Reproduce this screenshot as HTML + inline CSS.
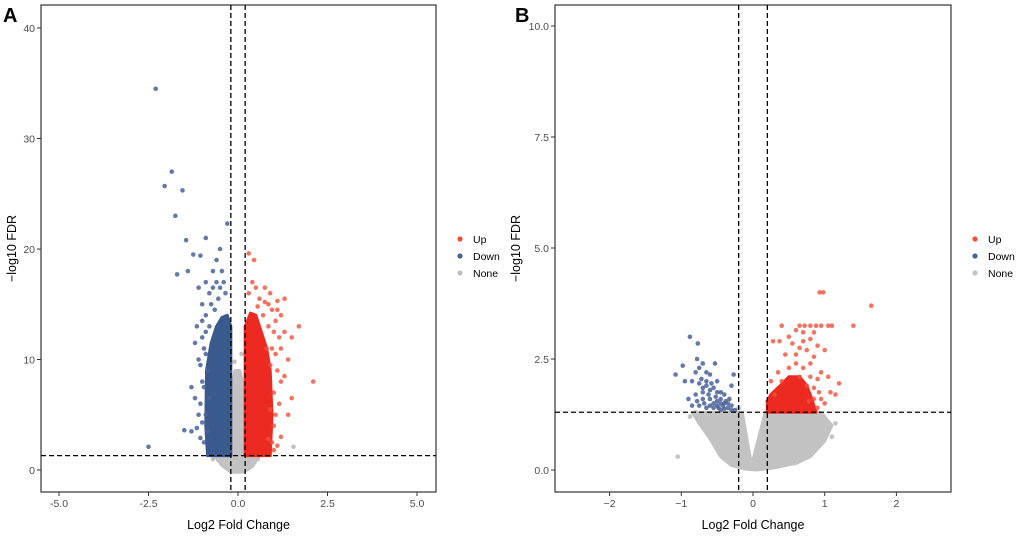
<!DOCTYPE html>
<html><head><meta charset="utf-8"><style>
body{margin:0;background:#fff;}
svg{display:block;font-family:"Liberation Sans",Arial,sans-serif;}
</style></head><body>
<svg id="chart" width="1020" height="536" viewBox="0 0 1020 536"></svg>
<script>
// ---------- Panel A data ----------
const aXTicks = [-5.0, -2.5, 0.0, 2.5, 5.0];
const aXTickLabels = ["-5.0", "-2.5", "0.0", "2.5", "5.0"];
const aYTicks = [0, 10, 20, 30, 40];
const aYTickLabels = ["0", "10", "20", "30", "40"];
const aDownPoints = [[-2.3,34.5],[-2.05,25.7],[-1.85,27],[-1.75,23],[-1.55,25.3],[-1.4,18],[-1.7,17.7],[-1.45,20.8],[-1.25,19.5],[-1.05,19.4],[-0.3,22.3],[-0.9,21],[-0.5,20],[-2.5,2.1],[-1.5,3.6],[-1.3,3.5],[-1.1,5],[-1.2,6.5],[-1.0,8],[-1.1,10],[-1.0,12],[-0.9,14],[-0.8,16],[-0.7,18],[-0.6,17],[-1.3,7.5],[-0.9,5],[-1.0,4.3],[-0.85,3.5],[-0.95,11],[-1.15,13],[-0.75,15],[-0.6,19],[-0.45,18],[-0.35,16],[-0.85,9],[-0.8,6.5],[-0.9,12.5],[-1.05,9.5],[-0.8,13],[-0.7,16.5],[-0.4,17],[-1.0,15],[-1.1,16.5],[-0.55,15.5],[-0.9,17],[-1.2,11.5],[-1.05,6],[-0.95,2.5],[-1.15,3.8],[-0.65,14.5],[-0.5,16.5],[-0.95,7.5],[-1.0,13.5],[-0.9,10.5],[-1.05,2.9]];
const aUpPoints = [[0.3,19.6],[0.4,17],[0.5,16.5],[0.9,16],[1.1,15.3],[1.3,15.5],[1.2,14],[1.5,12],[1.4,10],[1.3,8.5],[2.1,8],[1.5,6.5],[1.4,5],[1.0,4],[1.2,3],[0.9,5.5],[1.0,7],[1.1,9],[0.8,11],[1.0,12.5],[0.7,14],[0.6,15.5],[1.7,13],[0.95,2.5],[0.85,2.8],[0.45,19],[1.2,11],[0.9,9.5],[1.15,6],[0.85,13],[0.95,14.5],[1.3,12.5],[0.75,16.5],[1.05,10.5],[1.0,1.8],[1.1,2.2],[0.95,11],[1.05,13.5],[1.15,12],[0.85,15],[1.1,14.5],[0.55,14.8],[0.75,15.2],[1.2,8],[1.05,5],[0.3,16]];
const aNonePoints = [[1.55,2.1],[-0.55,0.9],[0.55,1.0],[-0.7,1.0],[0.1,10.5],[-0.1,9.8]];
const aDownCore = [[-0.2,1.3],[-0.2,13],[-0.3,14],[-0.45,13.8],[-0.6,13],[-0.75,11.5],[-0.88,9],[-0.9,4],[-0.85,1.3]];
const aUpCore = [[0.2,1.3],[0.2,13],[0.35,14.2],[0.5,14],[0.65,12.5],[0.8,11],[0.9,9],[0.95,5],[0.9,1.3]];
const aNoneCore = [[-0.65,1.3],[-0.2,1.3],[-0.2,7],[-0.08,9],[0.05,9],[0.2,7],[0.2,1.3],[0.6,1.3],[0.4,0.3],[0.15,-0.2],[-0.2,-0.2],[-0.45,0.4]];
// ---------- Panel B data ----------
const bXTicks = [-2, -1, 0, 1, 2];
const bXTickLabels = ["\u22122", "\u22121", "0", "1", "2"];
const bYTicks = [0, 2.5, 5, 7.5, 10];
const bYTickLabels = ["0.0", "2.5", "5.0", "7.5", "10.0"];
const bDownPoints = [[-0.88,3.0],[-0.77,2.85],[-0.98,2.35],[-1.08,2.15],[-0.95,2.0],[-0.78,2.5],[-0.7,2.4],[-0.53,2.4],[-0.65,2.2],[-0.6,2.15],[-0.27,2.15],[-0.45,1.75],[-0.3,1.9],[-0.85,2.0],[-0.75,1.95],[-0.65,1.9],[-0.55,1.85],[-0.5,2.0],[-0.9,1.6],[-0.8,1.7],[-0.7,1.75],[-0.6,1.6],[-0.5,1.55],[-0.4,1.5],[-0.3,1.45],[-0.75,1.45],[-0.65,1.4],[-0.55,1.4],[-0.45,1.35],[-0.35,1.4],[-0.25,1.35],[-0.85,1.45],[-0.6,1.8],[-0.4,1.7],[-0.7,1.6],[-0.5,1.45],[-0.65,2.0],[-0.45,1.6],[-0.72,2.05],[-0.58,1.95],[-0.38,1.55],[-0.48,1.4],[-0.68,1.5],[-0.62,1.7],[-0.52,1.65],[-0.42,1.45],[-0.33,1.6],[-0.55,1.5],[-0.78,1.55],[-0.7,1.85],[-0.6,1.45],[-0.5,1.75],[-0.4,1.38],[-0.3,1.35],[-0.45,1.5],[-0.35,1.5],[-0.8,2.2],[-0.75,2.3]];
const bUpPoints = [[1.65,3.7],[0.93,4.0],[0.98,4.0],[1.4,3.25],[0.4,3.25],[0.65,3.25],[0.72,3.25],[0.8,3.25],[0.88,3.25],[0.95,3.25],[1.05,3.25],[1.1,3.25],[0.6,3.15],[0.5,3.0],[0.28,2.9],[0.37,2.9],[1.0,2.7],[1.05,2.1],[1.2,1.95],[1.08,1.75],[1.15,1.7],[0.9,2.05],[0.95,2.2],[0.85,2.55],[0.7,2.9],[0.8,2.95],[0.75,2.7],[0.65,2.75],[0.9,2.8],[0.45,2.6],[0.35,2.2],[0.25,2.0],[0.95,1.6],[1.0,1.5],[0.9,1.4],[0.8,2.4],[0.6,2.6],[0.55,2.85],[0.85,3.1],[0.7,3.1],[0.8,2.1],[0.85,1.85],[0.75,1.9],[0.7,2.3],[0.6,2.4],[0.5,2.3],[0.4,2.0],[0.3,1.7],[0.85,1.6],[0.78,1.55],[0.65,2.1],[0.92,1.75]];
const bNonePoints = [[-1.05,0.3],[1.1,0.75],[1.15,1.05],[0.85,0.9],[0.9,0.6],[-0.8,1.3],[1.0,1.1],[-0.75,1.15],[0.2,1.55],[-0.2,1.4],[-0.88,1.2]];
const bUpCore = [[0.2,1.3],[0.88,1.3],[0.82,1.6],[0.75,1.9],[0.65,2.1],[0.5,2.1],[0.38,1.9],[0.25,1.7],[0.2,1.55]];
const bNoneCore = [[-0.85,1.3],[-0.15,1.3],[-0.02,0.1],[0.17,1.3],[0.95,1.3],[1.1,1.0],[1.0,0.65],[0.8,0.3],[0.6,0.15],[0.3,0.05],[0.05,0],[-0.1,0.02],[-0.3,0.1],[-0.45,0.3],[-0.6,0.7],[-0.75,1.05]];

const NS = "http://www.w3.org/2000/svg";
const svg = document.getElementById('chart');
function mk(tag, attrs, parent){const e=document.createElementNS(NS,tag);for(const k in attrs)e.setAttribute(k,attrs[k]);(parent||svg).appendChild(e);return e;}

const UPC = "#ec2a22", DOWNC = "#3a5a8e", NONEC = "#c2c2c2";

function panel(cfg){
  const g = mk('g',{});
  
  
  const sx = v => cfg.x0 + (v - cfg.xv0) * cfg.kx;
  const sy = v => cfg.y0 - v * cfg.ky;
  const fr = mk('rect',{x:cfg.L,y:5,width:cfg.R-cfg.L,height:492-5,fill:'#fff',stroke:'#333','stroke-width':1.2},g);
  
  
  const poly = (pts, col, op, nm) => {
    const p = mk('polygon',{points:pts.map(d=>sx(d[0])+','+sy(d[1])).join(' '),fill:col,stroke:col,'stroke-width':3,'stroke-linejoin':'round',opacity:op},g);
    
    
  };
  const dots = (pts, col, op, nm) => {
    pts.forEach(d=>{
      const c = mk('circle',{cx:sx(d[0]),cy:sy(d[1]),r:2.3,fill:col,opacity:op},g);
      
      
    });
  };
  poly(cfg.noneCore, NONEC, 1, 'none-density');
  dots(cfg.none, NONEC, 1, 'none-point');
  if(cfg.downCore) poly(cfg.downCore, DOWNC, 1, 'down-density');
  poly(cfg.upCore, UPC, 1, 'up-density');
  dots(cfg.down, '#4a6298', 0.85, 'down-point');
  dots(cfg.up, '#f0503a', 0.8, 'up-point');
  [-0.2,0.2].forEach(v=>{
    const l = mk('line',{x1:sx(v),x2:sx(v),y1:5,y2:492,stroke:'#000','stroke-width':1.3,'stroke-dasharray':'5,3'},g);
    
    
  });
  const h = mk('line',{x1:cfg.L,x2:cfg.R,y1:sy(1.3),y2:sy(1.3),stroke:'#000','stroke-width':1.3,'stroke-dasharray':'5,3'},g);
  
  
  cfg.xt.forEach((v,i)=>{
    mk('line',{x1:sx(v),x2:sx(v),y1:492,y2:496,stroke:'#333'},g);
    const t = mk('text',{x:sx(v),y:507,'text-anchor':'middle','font-size':10.5,fill:'#4d4d4d'},g);
    t.textContent = cfg.xl[i];
    
    
  });
  cfg.yt.forEach((v,i)=>{
    mk('line',{x1:cfg.L-4,x2:cfg.L,y1:sy(v),y2:sy(v),stroke:'#333'},g);
    const t = mk('text',{x:cfg.L-6,y:sy(v)+4,'text-anchor':'end','font-size':10.5,fill:'#4d4d4d'},g);
    t.textContent = cfg.yl[i];
    
    
  });
  const xt = mk('text',{x:(cfg.L+cfg.R)/2,y:529,'text-anchor':'middle','font-size':12.5,fill:'#000'},g);
  xt.textContent = 'Log2 Fold Change';
  
  
  const yt = mk('text',{x:0,y:0,'text-anchor':'middle','font-size':12.5,fill:'#000',transform:`translate(${cfg.ytx},${(5+492)/2}) rotate(-90)`},g);
  yt.textContent = '\u2212log10 FDR';
  
  
  const lab = mk('text',{x:cfg.labx,y:22,'font-size':20,'font-weight':'bold',fill:'#000'},g);
  lab.textContent = cfg.label;
  
  
  [['Up','#f0503a'],['Down','#4a6298'],['None',NONEC]].forEach((d,i)=>{
    const c = mk('circle',{cx:cfg.legx,cy:239+i*17,r:2.6,fill:d[1]},g);
    
    
    const t = mk('text',{x:cfg.legx+13,y:243+i*17,'font-size':10.5,fill:'#000'},g);
    t.textContent = d[0];
    
    
  });
}

panel({name:'panel-a',L:41,R:436,x0:238,xv0:0,kx:35.8,y0:470,ky:11.05,
  xt:aXTicks,xl:aXTickLabels,yt:aYTicks,yl:aYTickLabels,
  up:aUpPoints,down:aDownPoints,none:aNonePoints,upCore:aUpCore,downCore:aDownCore,noneCore:aNoneCore,
  ytx:16,labx:3,label:'A',legx:460});
panel({name:'panel-b',L:555,R:951,x0:753,xv0:0,kx:71.7,y0:470,ky:44.4,
  xt:bXTicks,xl:bXTickLabels,yt:bYTicks,yl:bYTickLabels,
  up:bUpPoints,down:bDownPoints,none:bNonePoints,upCore:bUpCore,downCore:null,noneCore:bNoneCore,
  ytx:520,labx:515,label:'B',legx:975});
</script>
</body></html>
